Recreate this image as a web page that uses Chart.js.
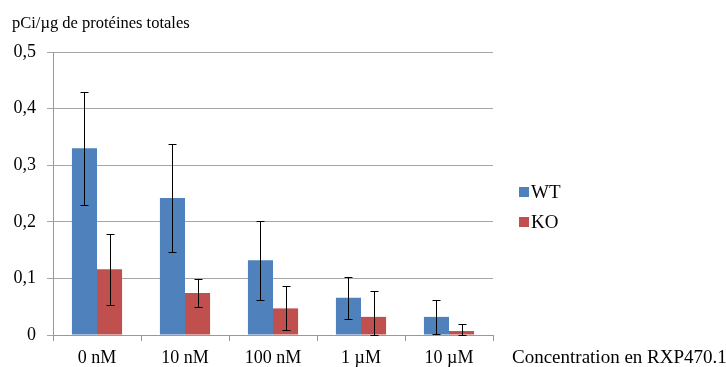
<!DOCTYPE html>
<html>
<head>
<meta charset="utf-8">
<script src="https://cdn.jsdelivr.net/npm/chart.js@4/dist/chart.umd.min.js"></script>
<style>
    body { margin: 0; background: #fff; }
    #wrap { width: 726px; height: 367px; position: relative; }
</style>
</head>
<body>
<div id="wrap"><canvas id="chart"></canvas></div>
<script>
const categories = ['0 nM', '10 nM', '100 nM', '1 µM', '10 µM'];
const wtValues = [0.330, 0.242, 0.132, 0.066, 0.032];
const wtErrors = [0.100, 0.095, 0.070, 0.037, 0.030];
const koValues = [0.116, 0.074, 0.047, 0.032, 0.007];
const koErrors = [0.063, 0.025, 0.039, 0.046, 0.012];
const yTicks = [0, 0.1, 0.2, 0.3, 0.4, 0.5];

const serif = "'Liberation Serif', 'Times New Roman', serif";

// error bars + titles + legend drawn on top
const extras = {
    id: 'extras',
    afterDatasetsDraw(chart) {
        const ctx = chart.ctx;
        const y = chart.scales.y;
        ctx.save();
        ctx.strokeStyle = '#000';
        ctx.lineWidth = 1;
        chart.data.datasets.forEach((ds, i) => {
            const meta = chart.getDatasetMeta(i);
            meta.data.forEach((bar, j) => {
                const v = ds.data[j], e = ds.errors[j];
                const x = Math.round(bar.x) + 0.5;
                const top = Math.round(y.getPixelForValue(v + e)) + 0.5;
                const bot = Math.round(y.getPixelForValue(Math.max(0, v - e))) + 0.5;
                ctx.beginPath();
                ctx.moveTo(x, top); ctx.lineTo(x, bot);
                ctx.moveTo(x - 4, top); ctx.lineTo(x + 4, top);
                ctx.moveTo(x - 4, bot); ctx.lineTo(x + 4, bot);
                ctx.stroke();
            });
        });

        ctx.fillStyle = '#000';
        ctx.textBaseline = 'middle';
        ctx.textAlign = 'left';
        ctx.font = '16.5px ' + serif;
        ctx.fillText('pCi/µg de protéines totales', 12, 24);
        ctx.font = '19px ' + serif;
        ctx.fillText('Concentration en RXP470.1', 512, 358);

        // legend
        chart.data.datasets.forEach((ds, i) => {
            const ly = 192 + i * 30;
            ctx.fillStyle = ds.backgroundColor;
            ctx.fillRect(519, ly - 5, 10, 10);
            ctx.fillStyle = '#000';
            ctx.fillText(ds.label, 531, ly + 1);
        });
        ctx.restore();
    }
};

new Chart(document.getElementById('chart'), {
    type: 'bar',
    data: {
        labels: categories,
        datasets: [
            { label: 'WT', data: wtValues, errors: wtErrors, backgroundColor: '#4F81BD' },
            { label: 'KO', data: koValues, errors: koErrors, backgroundColor: '#C0504D' }
        ]
    },
    options: {
        responsive: true,
        maintainAspectRatio: false,
        animation: false,
        layout: { padding: { left: 0, right: 233, top: 52, bottom: 0 } },
        datasets: { bar: { categoryPercentage: 0.57, barPercentage: 1.0 } },
        plugins: {
            legend: { display: false },
            tooltip: { enabled: false }
        },
        scales: {
            x: {
                afterFit: (axis) => { axis.height = 32; },
                grid: { display: true, drawOnChartArea: false, drawTicks: true, tickLength: 6, color: '#999', offset: true },
                border: { color: '#999' },
                ticks: { color: '#000', font: { family: serif, size: 18 }, padding: 6 }
            },
            y: {
                min: 0,
                max: 0.5,
                afterFit: (axis) => { axis.width = 53; },
                afterBuildTicks: (axis) => { axis.ticks = yTicks.map(v => ({ value: v })); },
                grid: { color: '#A6A6A6', tickLength: 6 },
                border: { color: '#999' },
                ticks: {
                    color: '#000',
                    font: { family: serif, size: 18 },
                    padding: 11,
                    callback: (v) => v === 0 ? '0' : v.toFixed(1).replace('.', ',')
                }
            }
        }
    },
    plugins: [extras]
});
</script>
</body>
</html>
